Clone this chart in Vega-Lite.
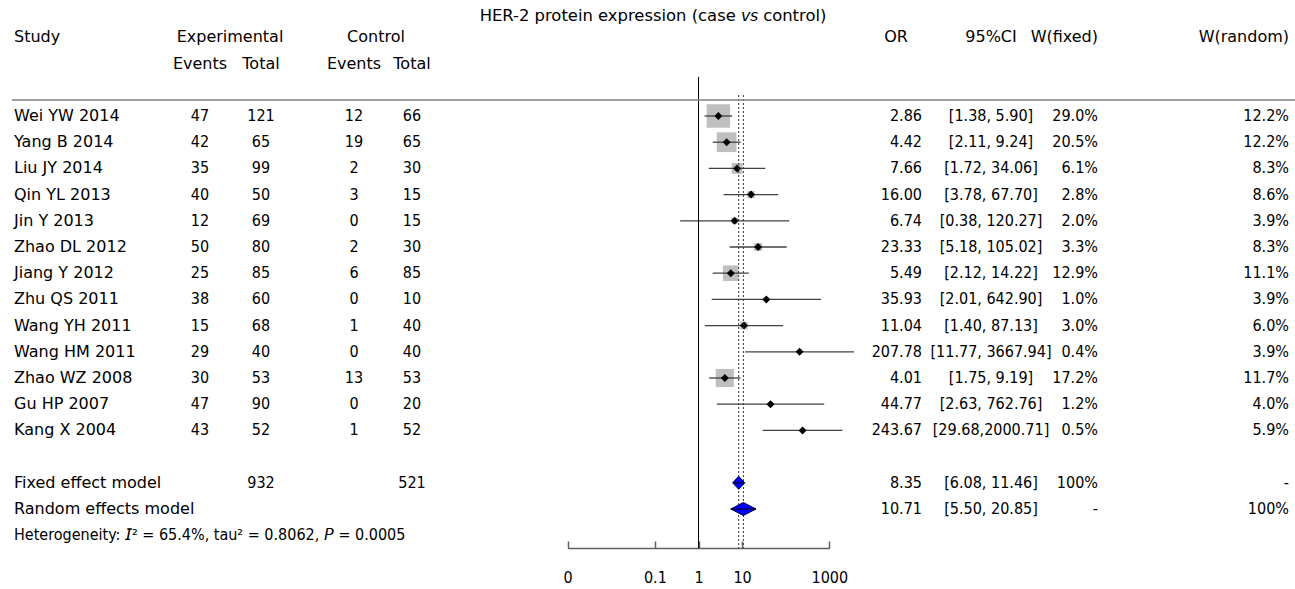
{
  "$schema": "https://vega.github.io/schema/vega-lite/v6.json",
  "width": 1295,
  "height": 589,
  "autosize": {"type": "none"},
  "padding": 0,
  "background": "white",
  "config": {
    "view": {"stroke": null},
    "text": {"font": "DejaVu Sans", "fontSize": 16, "color": "black", "baseline": "middle"},
    "axis": {"labelFont": "DejaVu Sans"}
  },
  "datasets": {
    "table": [
      {"kind": "header", "row": -2, "study": "Study", "egrp": "Experimental", "cgrp": "Control", "orhdr": "OR", "ci": "95%CI", "wf": "W(fixed)", "wr": "W(random)"},
      {"kind": "header", "row": -1, "ee": "Events", "et": "Total", "ce": "Events", "ct": "Total"},
      {"kind": "study", "row": 1, "study": "Wei YW 2014", "ee": 47, "et": 121, "ce": 12, "ct": 66, "or": 2.86, "lo": 1.38, "hi": 5.90, "ortxt": "2.86", "ci": "[1.38, 5.90]", "wfix": 0.290, "wf": "29.0%", "wr": "12.2%"},
      {"kind": "study", "row": 2, "study": "Yang B 2014", "ee": 42, "et": 65, "ce": 19, "ct": 65, "or": 4.42, "lo": 2.11, "hi": 9.24, "ortxt": "4.42", "ci": "[2.11, 9.24]", "wfix": 0.205, "wf": "20.5%", "wr": "12.2%"},
      {"kind": "study", "row": 3, "study": "Liu JY 2014", "ee": 35, "et": 99, "ce": 2, "ct": 30, "or": 7.66, "lo": 1.72, "hi": 34.06, "ortxt": "7.66", "ci": "[1.72, 34.06]", "wfix": 0.061, "wf": "6.1%", "wr": "8.3%"},
      {"kind": "study", "row": 4, "study": "Qin YL 2013", "ee": 40, "et": 50, "ce": 3, "ct": 15, "or": 16.00, "lo": 3.78, "hi": 67.70, "ortxt": "16.00", "ci": "[3.78, 67.70]", "wfix": 0.028, "wf": "2.8%", "wr": "8.6%"},
      {"kind": "study", "row": 5, "study": "Jin Y 2013", "ee": 12, "et": 69, "ce": 0, "ct": 15, "or": 6.74, "lo": 0.38, "hi": 120.27, "ortxt": "6.74", "ci": "[0.38, 120.27]", "wfix": 0.020, "wf": "2.0%", "wr": "3.9%"},
      {"kind": "study", "row": 6, "study": "Zhao DL 2012", "ee": 50, "et": 80, "ce": 2, "ct": 30, "or": 23.33, "lo": 5.18, "hi": 105.02, "ortxt": "23.33", "ci": "[5.18, 105.02]", "wfix": 0.033, "wf": "3.3%", "wr": "8.3%"},
      {"kind": "study", "row": 7, "study": "Jiang Y 2012", "ee": 25, "et": 85, "ce": 6, "ct": 85, "or": 5.49, "lo": 2.12, "hi": 14.22, "ortxt": "5.49", "ci": "[2.12, 14.22]", "wfix": 0.129, "wf": "12.9%", "wr": "11.1%"},
      {"kind": "study", "row": 8, "study": "Zhu QS 2011", "ee": 38, "et": 60, "ce": 0, "ct": 10, "or": 35.93, "lo": 2.01, "hi": 642.90, "ortxt": "35.93", "ci": "[2.01, 642.90]", "wfix": 0.010, "wf": "1.0%", "wr": "3.9%"},
      {"kind": "study", "row": 9, "study": "Wang YH 2011", "ee": 15, "et": 68, "ce": 1, "ct": 40, "or": 11.04, "lo": 1.40, "hi": 87.13, "ortxt": "11.04", "ci": "[1.40, 87.13]", "wfix": 0.030, "wf": "3.0%", "wr": "6.0%"},
      {"kind": "study", "row": 10, "study": "Wang HM 2011", "ee": 29, "et": 40, "ce": 0, "ct": 40, "or": 207.78, "lo": 11.77, "hi": 3667.94, "ortxt": "207.78", "ci": "[11.77, 3667.94]", "wfix": 0.004, "wf": "0.4%", "wr": "3.9%"},
      {"kind": "study", "row": 11, "study": "Zhao WZ 2008", "ee": 30, "et": 53, "ce": 13, "ct": 53, "or": 4.01, "lo": 1.75, "hi": 9.19, "ortxt": "4.01", "ci": "[1.75, 9.19]", "wfix": 0.172, "wf": "17.2%", "wr": "11.7%"},
      {"kind": "study", "row": 12, "study": "Gu HP 2007", "ee": 47, "et": 90, "ce": 0, "ct": 20, "or": 44.77, "lo": 2.63, "hi": 762.76, "ortxt": "44.77", "ci": "[2.63, 762.76]", "wfix": 0.012, "wf": "1.2%", "wr": "4.0%"},
      {"kind": "study", "row": 13, "study": "Kang X 2004", "ee": 43, "et": 52, "ce": 1, "ct": 52, "or": 243.67, "lo": 29.68, "hi": 2000.71, "ortxt": "243.67", "ci": "[29.68,2000.71]", "wfix": 0.005, "wf": "0.5%", "wr": "5.9%"},
      {"kind": "model", "row": 15, "study": "Fixed effect model", "et": 932, "ct": 521, "or": 8.35, "lo": 6.08, "hi": 11.46, "ortxt": "8.35", "ci": "[6.08, 11.46]", "wf": "100%", "wr": "-"},
      {"kind": "model", "row": 16, "study": "Random effects model", "or": 10.71, "lo": 5.50, "hi": 20.85, "ortxt": "10.71", "ci": "[5.50, 20.85]", "wf": "-", "wr": "100%"},
      {"kind": "note", "row": 17, "note": "Heterogeneity: \ud835\ude10\u00b2 = 65.4%, tau\u00b2 = 0.8062, \ud835\ude17 = 0.0005"}
    ]
  },
  "data": {"name": "table"},
  "layer": [
    {
      "layer": [
        {
          "transform": [{"filter": "datum.kind == 'study'"}],
          "mark": {"type": "square", "color": "#bfbfbf", "opacity": 1},
          "encoding": {
            "x": {
              "field": "or", "type": "quantitative",
              "scale": {"type": "log", "domain": [0.001, 1000], "range": [567.7, 829.3], "nice": false},
              "axis": {
                "orient": "bottom", "offset": -41, "values": [0.001, 0.1, 1, 10, 1000],
                "labelExpr": "datum.value < 0.01 ? '0' : format(datum.value, '~g')",
                "grid": false, "title": null, "domainColor": "#606060", "domainWidth": 1.5,
                "tickColor": "#606060", "tickWidth": 1.5, "tickSize": -7, "labelPadding": 28,
                "labelFontSize": 16, "labelColor": "black", "labelFont": "DejaVu Sans Condensed",
                "labelFlush": false, "labelOverlap": false
              }
            },
            "y": {"field": "row", "type": "quantitative", "scale": {"domain": [-3.427, 19.053], "range": [0, 589], "nice": false, "zero": false}, "axis": null},
            "size": {"field": "wfix", "type": "quantitative", "scale": {"domain": [0, 1], "range": [0, 1900]}, "legend": null}
          }
        },
        {
          "transform": [{"filter": "datum.kind == 'study'"}],
          "mark": {"type": "rule", "color": "#404040", "strokeWidth": 1.3},
          "encoding": {
            "x": {"field": "lo", "type": "quantitative"},
            "x2": {"field": "hi"},
            "y": {"field": "row", "type": "quantitative", "axis": null}
          }
        },
        {
          "transform": [{"filter": "datum.kind == 'study'"}],
          "mark": {"type": "point", "shape": "diamond", "filled": true, "color": "black", "size": 64, "opacity": 1},
          "encoding": {
            "x": {"field": "or", "type": "quantitative"},
            "y": {"field": "row", "type": "quantitative", "axis": null}
          }
        },
        {
          "data": {"values": [{}]},
          "mark": {"type": "rule", "color": "black", "strokeWidth": 1},
          "encoding": {
            "x": {"datum": 1, "type": "quantitative"},
            "y": {"datum": -0.49, "type": "quantitative", "axis": null},
            "y2": {"datum": 17.5}
          }
        },
        {
          "transform": [{"filter": "datum.kind == 'model'"}],
          "mark": {"type": "rule", "color": "#333333", "strokeDash": [2, 2], "strokeWidth": 1},
          "encoding": {
            "x": {"field": "or", "type": "quantitative"},
            "y": {"datum": 0.2, "type": "quantitative", "axis": null},
            "y2": {"datum": 17.5}
          }
        },
        {
          "transform": [{"filter": "datum.kind == 'model'"}, {"fold": ["lo", "or", "hi"], "as": ["vertex", "value"]}],
          "mark": {
            "type": "area", "color": "#0000ff", "opacity": 1, "stroke": "#00004d", "strokeWidth": 1,
            "yOffset": {"expr": "datum.vertex === 'or' ? -6.5 : 0"},
            "y2Offset": {"expr": "datum.vertex === 'or' ? 6.5 : 0"}
          },
          "encoding": {
            "x": {"field": "value", "type": "quantitative"},
            "y": {"field": "row", "type": "quantitative", "axis": null},
            "y2": {"field": "row"},
            "detail": {"field": "study"}
          }
        },
        {
          "transform": [{"filter": "datum.kind == 'model'"}],
          "mark": {"type": "rule", "color": "black", "strokeWidth": 1},
          "encoding": {
            "x": {"field": "lo", "type": "quantitative"},
            "x2": {"field": "hi"},
            "y": {"field": "row", "type": "quantitative", "axis": null}
          }
        }
      ],
      "resolve": {"scale": {"size": "independent"}, "legend": {"size": "independent"}}
    },
    {
      "layer": [
        {
          "data": {"values": [{}]},
          "mark": {"type": "rule", "color": "#808080", "strokeWidth": 1.5},
          "encoding": {
            "x": {"datum": 12, "type": "quantitative", "scale": {"domain": [0, 1295], "range": [0, 1295], "nice": false, "zero": false}, "axis": null},
            "x2": {"datum": 1295},
            "y": {"datum": 0.39, "type": "quantitative", "axis": null}
          }
        },
        {
          "data": {"values": [{"title": "HER-2 protein expression (case \ud835\ude37\ud835\ude34 control)"}]},
          "mark": {"type": "text", "align": "center", "fontSize": 16.4},
          "encoding": {
            "x": {"datum": 653, "type": "quantitative", "axis": null},
            "y": {"datum": -2.8, "type": "quantitative", "axis": null},
            "text": {"field": "title", "type": "nominal"}
          }
        },
        {
          "transform": [{"filter": "isValid(datum.study)"}],
          "mark": {"type": "text", "align": "left"},
          "encoding": {"x": {"datum": 14, "type": "quantitative", "axis": null}, "y": {"field": "row", "type": "quantitative", "axis": null}, "text": {"field": "study", "type": "nominal"}}
        },
        {
          "transform": [{"filter": "isValid(datum.note)"}],
          "mark": {"type": "text", "align": "left", "font": "DejaVu Sans Condensed", "fontSize": 16},
          "encoding": {"x": {"datum": 14, "type": "quantitative", "axis": null}, "y": {"field": "row", "type": "quantitative", "axis": null}, "text": {"field": "note", "type": "nominal"}}
        },
        {
          "transform": [{"filter": "isValid(datum.egrp)"}],
          "mark": {"type": "text", "align": "center"},
          "encoding": {"x": {"datum": 230, "type": "quantitative", "axis": null}, "y": {"field": "row", "type": "quantitative", "axis": null}, "text": {"field": "egrp", "type": "nominal"}}
        },
        {
          "transform": [{"filter": "isValid(datum.cgrp)"}],
          "mark": {"type": "text", "align": "center"},
          "encoding": {"x": {"datum": 376, "type": "quantitative", "axis": null}, "y": {"field": "row", "type": "quantitative", "axis": null}, "text": {"field": "cgrp", "type": "nominal"}}
        },
        {
          "transform": [{"filter": "isValid(datum.ee)"}],
          "mark": {"type": "text", "align": "center", "font": {"expr": "datum.kind == 'header' ? 'DejaVu Sans' : 'DejaVu Sans Condensed'"}},
          "encoding": {"x": {"datum": 200, "type": "quantitative", "axis": null}, "y": {"field": "row", "type": "quantitative", "axis": null}, "text": {"field": "ee", "type": "nominal"}}
        },
        {
          "transform": [{"filter": "isValid(datum.et)"}],
          "mark": {"type": "text", "align": "center", "font": {"expr": "datum.kind == 'header' ? 'DejaVu Sans' : 'DejaVu Sans Condensed'"}},
          "encoding": {"x": {"datum": 261, "type": "quantitative", "axis": null}, "y": {"field": "row", "type": "quantitative", "axis": null}, "text": {"field": "et", "type": "nominal"}}
        },
        {
          "transform": [{"filter": "isValid(datum.ce)"}],
          "mark": {"type": "text", "align": "center", "font": {"expr": "datum.kind == 'header' ? 'DejaVu Sans' : 'DejaVu Sans Condensed'"}},
          "encoding": {"x": {"datum": 354, "type": "quantitative", "axis": null}, "y": {"field": "row", "type": "quantitative", "axis": null}, "text": {"field": "ce", "type": "nominal"}}
        },
        {
          "transform": [{"filter": "isValid(datum.ct)"}],
          "mark": {"type": "text", "align": "center", "font": {"expr": "datum.kind == 'header' ? 'DejaVu Sans' : 'DejaVu Sans Condensed'"}},
          "encoding": {"x": {"datum": 412, "type": "quantitative", "axis": null}, "y": {"field": "row", "type": "quantitative", "axis": null}, "text": {"field": "ct", "type": "nominal"}}
        },
        {
          "transform": [{"filter": "isValid(datum.orhdr)"}],
          "mark": {"type": "text", "align": "center"},
          "encoding": {"x": {"datum": 896, "type": "quantitative", "axis": null}, "y": {"field": "row", "type": "quantitative", "axis": null}, "text": {"field": "orhdr", "type": "nominal"}}
        },
        {
          "transform": [{"filter": "isValid(datum.ortxt)"}],
          "mark": {"type": "text", "align": "right", "font": "DejaVu Sans Condensed"},
          "encoding": {"x": {"datum": 922, "type": "quantitative", "axis": null}, "y": {"field": "row", "type": "quantitative", "axis": null}, "text": {"field": "ortxt", "type": "nominal"}}
        },
        {
          "transform": [{"filter": "isValid(datum.ci)"}],
          "mark": {"type": "text", "align": "center", "font": {"expr": "datum.kind == 'header' ? 'DejaVu Sans' : 'DejaVu Sans Condensed'"}},
          "encoding": {"x": {"datum": 991, "type": "quantitative", "axis": null}, "y": {"field": "row", "type": "quantitative", "axis": null}, "text": {"field": "ci", "type": "nominal"}}
        },
        {
          "transform": [{"filter": "isValid(datum.wf)"}],
          "mark": {"type": "text", "align": "right", "font": {"expr": "datum.kind == 'header' ? 'DejaVu Sans' : 'DejaVu Sans Condensed'"}},
          "encoding": {"x": {"datum": 1098, "type": "quantitative", "axis": null}, "y": {"field": "row", "type": "quantitative", "axis": null}, "text": {"field": "wf", "type": "nominal"}}
        },
        {
          "transform": [{"filter": "isValid(datum.wr)"}],
          "mark": {"type": "text", "align": "right", "font": {"expr": "datum.kind == 'header' ? 'DejaVu Sans' : 'DejaVu Sans Condensed'"}},
          "encoding": {"x": {"datum": 1289, "type": "quantitative", "axis": null}, "y": {"field": "row", "type": "quantitative", "axis": null}, "text": {"field": "wr", "type": "nominal"}}
        }
      ]
    }
  ],
  "resolve": {"scale": {"x": "independent"}, "axis": {"x": "independent"}}
}
